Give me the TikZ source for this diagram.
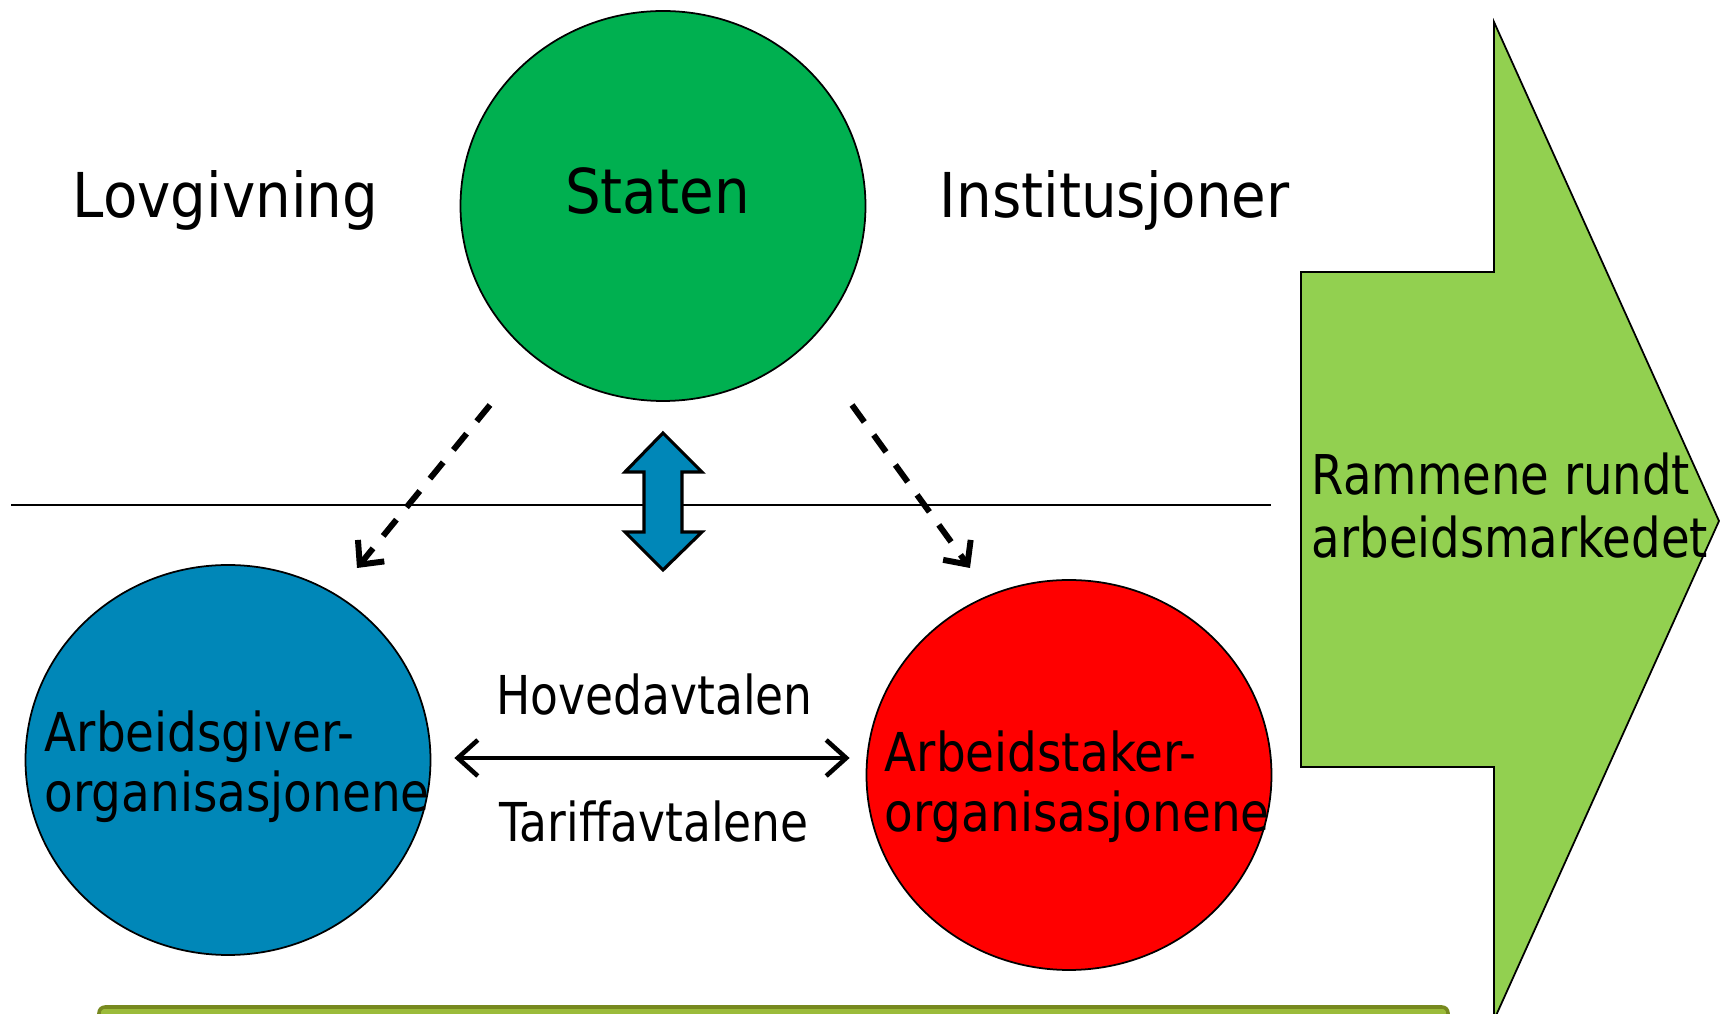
\documentclass[tikz,border=0pt]{standalone}
\usepackage{fontspec}
\setmainfont[FakeStretch=0.85]{DejaVu Sans}
\newfontfamily\topfont[FakeStretch=0.91]{DejaVu Sans}
\newfontfamily\orgfont[FakeStretch=0.875]{DejaVu Sans}
\usepackage{tikz}
\usetikzlibrary{arrows.meta, calc, positioning, shapes.geometric}
\definecolor{statgreen}{HTML}{00B050}
\definecolor{orgblue}{HTML}{0087B8}
\definecolor{orgred}{HTML}{FF0000}
\definecolor{rammegreen}{HTML}{92D050}
\definecolor{barolive}{HTML}{77891F}
\definecolor{barlight}{HTML}{9BBB3A}
\tikzset{%
    party/.style={%
        ellipse,
        draw=black, line width=0.5pt,
        minimum width=4.05cm,
        minimum height=3.9cm,
        inner sep=0pt,
    },
    bigtext/.style={%
        inner sep=0pt,
        font=\topfont\fontsize{17.6}{21}\selectfont,
    },
    orgtext/.style={%
        inner sep=0pt,
        align=left,
        font=\orgfont\fontsize{15.25}{17.1}\selectfont,
    },
    avtaletext/.style={%
        inner sep=0pt,
        font=\fontsize{15.25}{18}\selectfont,
    },
    dashedge/.style={%
        ->,
        >={Straight Barb[length=1.8mm, width=3.4mm]},
        dash pattern=on 2.1mm off 1.6mm,
        line width=1.7pt,
    },
    avtaleedge/.style={%
        <->,
        >={Straight Barb[length=2mm, width=3.6mm]},
        line width=1.3pt,
    },
}

\begin{document}
\begin{tikzpicture}
	\useasboundingbox (0,0) rectangle (17.25,-10.14);

	% the three parties
	\node [party, fill=statgreen] at (6.63,-2.06) (staten) {};
	\node [party, fill=orgblue] at (2.28,-7.60) (arbgiver) {};
	\node [party, fill=orgred] at (10.69,-7.75) (arbtaker) {};

	\node [bigtext, anchor=base] at (6.575,-2.14) (staten_txt) {Staten};
	\node [bigtext, anchor=base west] at (0.72,-2.18) (lov) {Lovgivning};
	\node [bigtext, anchor=base west] at (9.39,-2.18) (inst) {Institusjoner};

	\node [orgtext, anchor=base west] at (0.44,-8.12) (arbgiver_txt) {Arbeidsgiver-\\organisasjonene};
	\node [orgtext, anchor=base west] at (8.84,-8.32) (arbtaker_txt) {Arbeidstaker-\\organisasjonene};

	% dividing line and the blue double arrow
	\coordinate (line_l) at (0.11,-5.05);
	\coordinate (line_r) at (12.71,-5.05);
	\draw [line width=0.6pt] (line_l) -- (line_r);

	\draw [fill=orgblue, line width=0.9pt]
		(6.63,-4.33) -- (7.02,-4.72) -- (6.82,-4.72) -- (6.82,-5.32)
		-- (7.02,-5.32) -- (6.63,-5.70) -- (6.25,-5.32) -- (6.44,-5.32)
		-- (6.44,-4.72) -- (6.25,-4.72) -- cycle;

	% state acts on both sides
	\coordinate (dash_l1) at (4.90,-4.05);
	\coordinate (dash_l2) at (3.57,-5.68);
	\coordinate (dash_r1) at (8.52,-4.05);
	\coordinate (dash_r2) at (9.70,-5.68);
	\draw [dashedge] (dash_l1) -- (dash_l2);
	\draw [dashedge] (dash_r1) -- (dash_r2);

	% agreements between the parties
	\coordinate (avtale_l) at ($(arbgiver.east)+(0,0.02)$);
	\draw [avtaleedge, shorten <=2.3mm, shorten >=1.6mm] (avtale_l) -- (avtale_l -| arbtaker.west);
	\node [avtaletext, anchor=base] at (6.545,-7.15) (hoved) {Hovedavtalen};
	\node [avtaletext, anchor=base] at (6.54,-8.42) (tariff) {Tariffavtalene};

	% the frame arrow
	\draw [fill=rammegreen, line width=0.5pt]
		(13.01,-2.72) -- (14.94,-2.72) -- (14.94,-0.22) -- (17.19,-5.21)
		-- (14.94,-10.20) -- (14.94,-7.67) -- (13.01,-7.67) -- cycle;
	\node [anchor=base west, inner sep=0pt, align=left,
		font=\fontsize{15.6}{18.2}\selectfont] at (13.11,-5.58) (ramme) {Rammene rundt\\arbeidsmarkedet};

	% bar at the bottom
	\draw [fill=barlight, draw=barolive, line width=1pt, rounded corners=0.6mm]
		(0.99,-10.40) rectangle (14.48,-10.07);
\end{tikzpicture}
\end{document}
